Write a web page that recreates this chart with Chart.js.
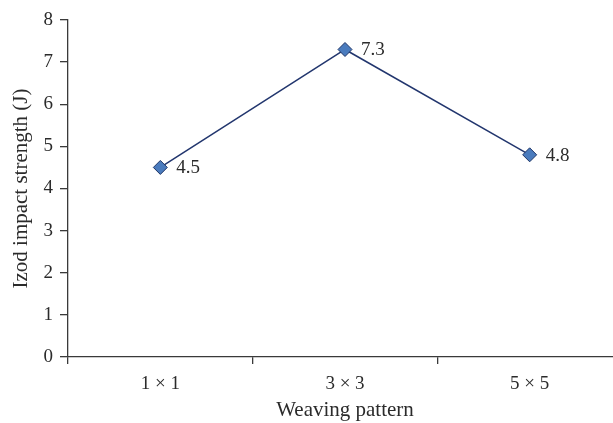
<!DOCTYPE html>
<html>
<head>
<meta charset="utf-8">
<script src="https://cdn.jsdelivr.net/npm/chart.js@4/dist/chart.umd.min.js"></script>
<style>
  html, body { margin: 0; padding: 0; background: #fff; overflow: hidden; }
  #wrap { width: 622px; height: 423px; }
  #myChart { width: 622px; height: 423px; display: block; }
</style>
</head>
<body>
<div id="wrap"><canvas id="myChart" width="622" height="423"></canvas></div>
<script>
const patterns = ['1 \u00d7 1', '3 \u00d7 3', '5 \u00d7 5'];
const izodStrength = [4.5, 7.3, 4.8];
const yTicks = [0, 1, 2, 3, 4, 5, 6, 7, 8];

const serif = '"Liberation Serif", "DejaVu Serif", serif';
const axisColor = '#3a3a3a';
const textColor = '#2b2b2b';

// draws the value next to each marker
const valueLabels = {
    id: 'valueLabels',
    afterDatasetsDraw(chart) {
        const ctx = chart.ctx;
        const meta = chart.getDatasetMeta(0);
        ctx.save();
        ctx.font = '19px ' + serif;
        ctx.fillStyle = textColor;
        ctx.textAlign = 'left';
        ctx.textBaseline = 'middle';
        meta.data.forEach(function(pt, i) {
            ctx.fillText(izodStrength[i].toFixed(1), pt.x + 16, pt.y + 1);
        });
        ctx.restore();
    }
};

const canvas = document.querySelector('#myChart').getContext('2d');
const chart = new Chart(canvas, {
    type: 'line',
    data: {
        labels: patterns,
        datasets: [{
            data: izodStrength,
            borderColor: '#22366e',
            borderWidth: 1.5,
            pointStyle: 'rectRot',
            pointRadius: 7,
            pointHoverRadius: 7,
            pointBackgroundColor: '#4a7bbd',
            pointBorderColor: '#1f3566',
            pointBorderWidth: 1,
            tension: 0
        }]
    },
    options: {
        responsive: false,
        animation: false,
        devicePixelRatio: 1,
        layout: { autoPadding: false, padding: { top: 20, right: 0, left: 0, bottom: 0 } },
        plugins: {
            legend: { display: false },
            tooltip: { enabled: false }
        },
        scales: {
            x: {
                offset: true,
                grid: {
                    offset: true,
                    drawOnChartArea: false,
                    drawTicks: true,
                    tickLength: 7,
                    color: axisColor,
                    lineWidth: 1.3
                },
                border: { color: axisColor, width: 1.3 },
                ticks: {
                    color: textColor,
                    font: { family: serif, size: 19 },
                    padding: 9
                },
                title: {
                    display: true,
                    text: 'Weaving pattern',
                    color: textColor,
                    font: { family: serif, size: 21 },
                    padding: { top: 0, bottom: 0 }
                },
                afterFit(scale) { scale.height = 66; }
            },
            y: {
                min: 0,
                max: 8,
                afterBuildTicks(scale) {
                    scale.ticks = yTicks.map(v => ({ value: v }));
                },
                grid: {
                    drawOnChartArea: false,
                    drawTicks: true,
                    tickLength: 8,
                    color: axisColor,
                    lineWidth: 1.3
                },
                border: { color: axisColor, width: 1.3 },
                ticks: {
                    color: textColor,
                    font: { family: serif, size: 19 },
                    padding: 7
                },
                title: {
                    display: true,
                    text: 'Izod impact strength (J)',
                    color: textColor,
                    font: { family: serif, size: 21 },
                    padding: { top: 9, bottom: 0 }
                },
                afterFit(scale) { scale.width = 68; }
            }
        }
    },
    plugins: [valueLabels]
});
</script>
</body>
</html>
